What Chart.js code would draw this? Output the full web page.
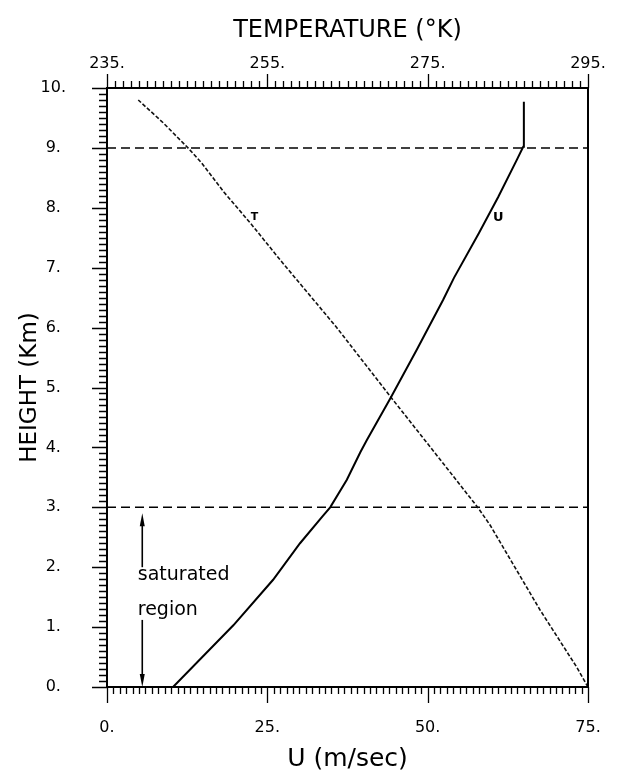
<!DOCTYPE html>
<html>
<head>
<meta charset="utf-8">
<script src="https://cdn.jsdelivr.net/npm/chart.js@4.4.1/dist/chart.umd.min.js"></script>
<style>
  body { margin: 0; background: #fff; }
  #wrap { width: 619px; height: 774px; }
</style>
</head>
<body>
<div id="wrap"><canvas id="profile" width="619" height="774"></canvas></div>
<script>
// wind profile U (m/sec) against height (km)
const heightU = [0, 1.03, 1.79, 2.40, 2.85, 3.0, 3.46, 3.92, 4.12, 4.84, 5.63, 6.46, 6.83, 7.58, 8.18, 8.80, 9.02, 9.13, 9.77];
const windU = [10.3, 19.7, 25.9, 30.1, 33.6, 34.8, 37.4, 39.5, 40.5, 44.3, 48.3, 52.4, 54.1, 58.0, 61.0, 63.9, 64.9, 65.0, 65.0];

// temperature profile (K) against height (km)
const heightT = [0, 0.33, 1.29, 2.70, 2.99, 3.79, 4.84, 6.01, 7.13, 7.71, 8.26, 8.75, 9.0, 9.42, 9.80];
const tempT = [295.0, 293.6, 289.0, 282.8, 281.3, 276.6, 270.4, 263.6, 256.6, 253.1, 249.6, 246.8, 245.1, 242.0, 238.9];

// dashed reference levels (km): top of saturated region, and 9 km
const dashedHeights = [3, 9];

// axis ranges and label steps
const uRange = [0, 75];
const tRange = [235, 295];
const hRange = [0, 10];
const uLabelStep = 25;
const tLabelStep = 20;
const hLabelStep = 1;

Chart.defaults.font.family = "'DejaVu Sans'";
Chart.defaults.color = '#000';

function toPoints(xs, ys) {
  const pts = [];
  for (let i = 0; i < xs.length; i++) pts.push({x: xs[i], y: ys[i]});
  return pts;
}

function drawArrow(ctx, x, yFrom, yTo) {
  const dir = yTo > yFrom ? 1 : -1;
  ctx.beginPath();
  ctx.moveTo(x, yFrom);
  ctx.lineTo(x, yTo - dir * 8);
  ctx.stroke();
  ctx.beginPath();
  ctx.moveTo(x, yTo);
  ctx.lineTo(x - 2.5, yTo - dir * 13);
  ctx.lineTo(x + 2.5, yTo - dir * 13);
  ctx.closePath();
  ctx.fill();
}

// frame, comb ticks and the text notes
const frameAndNotes = {
  id: 'frameAndNotes',
  afterDatasetsDraw(chart) {
    const {ctx, chartArea: a, scales} = chart;
    const sx = scales.x, st = scales.xT, sy = scales.y;
    ctx.save();
    ctx.strokeStyle = '#000';
    ctx.fillStyle = '#000';

    ctx.lineWidth = 1.3;
    ctx.beginPath();
    for (let i = hRange[0] * 10; i <= hRange[1] * 10; i++) {
      const py = Math.round(sy.getPixelForValue(i / 10)) + 0.5;
      const len = i % 10 === 0 ? 15 : 8;
      ctx.moveTo(a.left, py);
      ctx.lineTo(a.left - len, py);
    }
    for (let u = uRange[0]; u <= uRange[1]; u++) {
      const px = Math.round(sx.getPixelForValue(u)) + 0.5;
      const len = u % uLabelStep === 0 ? 16 : 7;
      ctx.moveTo(px, a.bottom);
      ctx.lineTo(px, a.bottom + len);
    }
    for (let t = tRange[0]; t <= tRange[1]; t++) {
      const px = Math.round(st.getPixelForValue(t)) + 0.5;
      const len = (t - tRange[0]) % tLabelStep === 0 ? 14 : 7;
      ctx.moveTo(px, a.top);
      ctx.lineTo(px, a.top - len);
    }
    ctx.stroke();

    ctx.lineWidth = 2;
    ctx.strokeRect(a.left, a.top, a.right - a.left, a.bottom - a.top);

    // saturated region note
    ctx.lineWidth = 1.6;
    const ax = sx.getPixelForValue(5.5);
    drawArrow(ctx, ax, sy.getPixelForValue(2.0), sy.getPixelForValue(2.9));
    drawArrow(ctx, ax, sy.getPixelForValue(1.12), sy.getPixelForValue(0));
    ctx.font = '19px "DejaVu Sans"';
    ctx.textAlign = 'left';
    ctx.textBaseline = 'alphabetic';
    ctx.fillText('saturated', sx.getPixelForValue(4.8), sy.getPixelForValue(1.79));
    ctx.fillText('region', sx.getPixelForValue(4.8), sy.getPixelForValue(1.20));

    // curve names
    ctx.textAlign = 'center';
    ctx.textBaseline = 'middle';
    ctx.font = 'bold 11px "DejaVu Sans"';
    ctx.fillText('T', st.getPixelForValue(253.4), sy.getPixelForValue(7.84));
    ctx.font = 'bold 13px "DejaVu Sans"';
    ctx.fillText('U', sx.getPixelForValue(61.0), sy.getPixelForValue(7.84));
    ctx.restore();
  }
};

const datasets = [
  {
    label: 'U',
    data: toPoints(windU, heightU),
    xAxisID: 'x',
    borderColor: '#000',
    borderWidth: 2,
    showLine: true,
    pointRadius: 0
  },
  {
    label: 'T',
    data: toPoints(tempT, heightT),
    xAxisID: 'xT',
    borderColor: '#111',
    borderWidth: 1.6,
    borderDash: [4, 2],
    showLine: true,
    pointRadius: 0
  }
];
dashedHeights.forEach(function(h) {
  datasets.push({
    label: h + ' km',
    data: [{x: uRange[0], y: h}, {x: uRange[1], y: h}],
    xAxisID: 'x',
    borderColor: '#000',
    borderWidth: 1.5,
    borderDash: [9, 5],
    showLine: true,
    pointRadius: 0
  });
});

const noGrid = {display: false, drawTicks: false, tickLength: 0};

// keep the end labels from pushing the plot area inward
function fitX(height) {
  return function(s) {
    s.height = height;
    s.paddingLeft = 0;
    s.paddingRight = 0;
  };
}

new Chart(document.getElementById('profile'), {
  type: 'scatter',
  data: {datasets: datasets},
  options: {
    responsive: false,
    animation: false,
    layout: {padding: {left: 0, right: 31, top: 0, bottom: 0}},
    plugins: {legend: {display: false}, tooltip: {enabled: false}},
    scales: {
      x: {
        type: 'linear',
        position: 'bottom',
        min: uRange[0],
        max: uRange[1],
        grid: noGrid,
        border: {display: false},
        ticks: {stepSize: uLabelStep, padding: 31, maxRotation: 0, font: {size: 16},
          callback: function(v) { return v + '.'; }},
        title: {display: true, text: 'U (m/sec)', font: {size: 25}, padding: {top: 0, bottom: 0}},
        afterFit: fitX(87)
      },
      xT: {
        type: 'linear',
        axis: 'x',
        position: 'top',
        min: tRange[0],
        max: tRange[1],
        grid: noGrid,
        border: {display: false},
        ticks: {stepSize: tLabelStep, padding: 15, maxRotation: 0, font: {size: 16},
          callback: function(v) { return v + '.'; }},
        title: {display: true, text: 'TEMPERATURE (°K)', font: {size: 24}, padding: {top: 16, bottom: 0}},
        afterFit: fitX(88)
      },
      y: {
        type: 'linear',
        position: 'left',
        min: hRange[0],
        max: hRange[1],
        grid: noGrid,
        border: {display: false},
        ticks: {stepSize: hLabelStep, padding: 41, crossAlign: 'center', font: {size: 16},
          callback: function(v) { return v + '.'; }},
        title: {display: true, text: 'HEIGHT (Km)', font: {size: 23}, padding: {top: 16, bottom: 0}},
        afterFit: function(s) { s.width = 107; }
      }
    }
  },
  plugins: [frameAndNotes]
});
</script>
</body>
</html>
